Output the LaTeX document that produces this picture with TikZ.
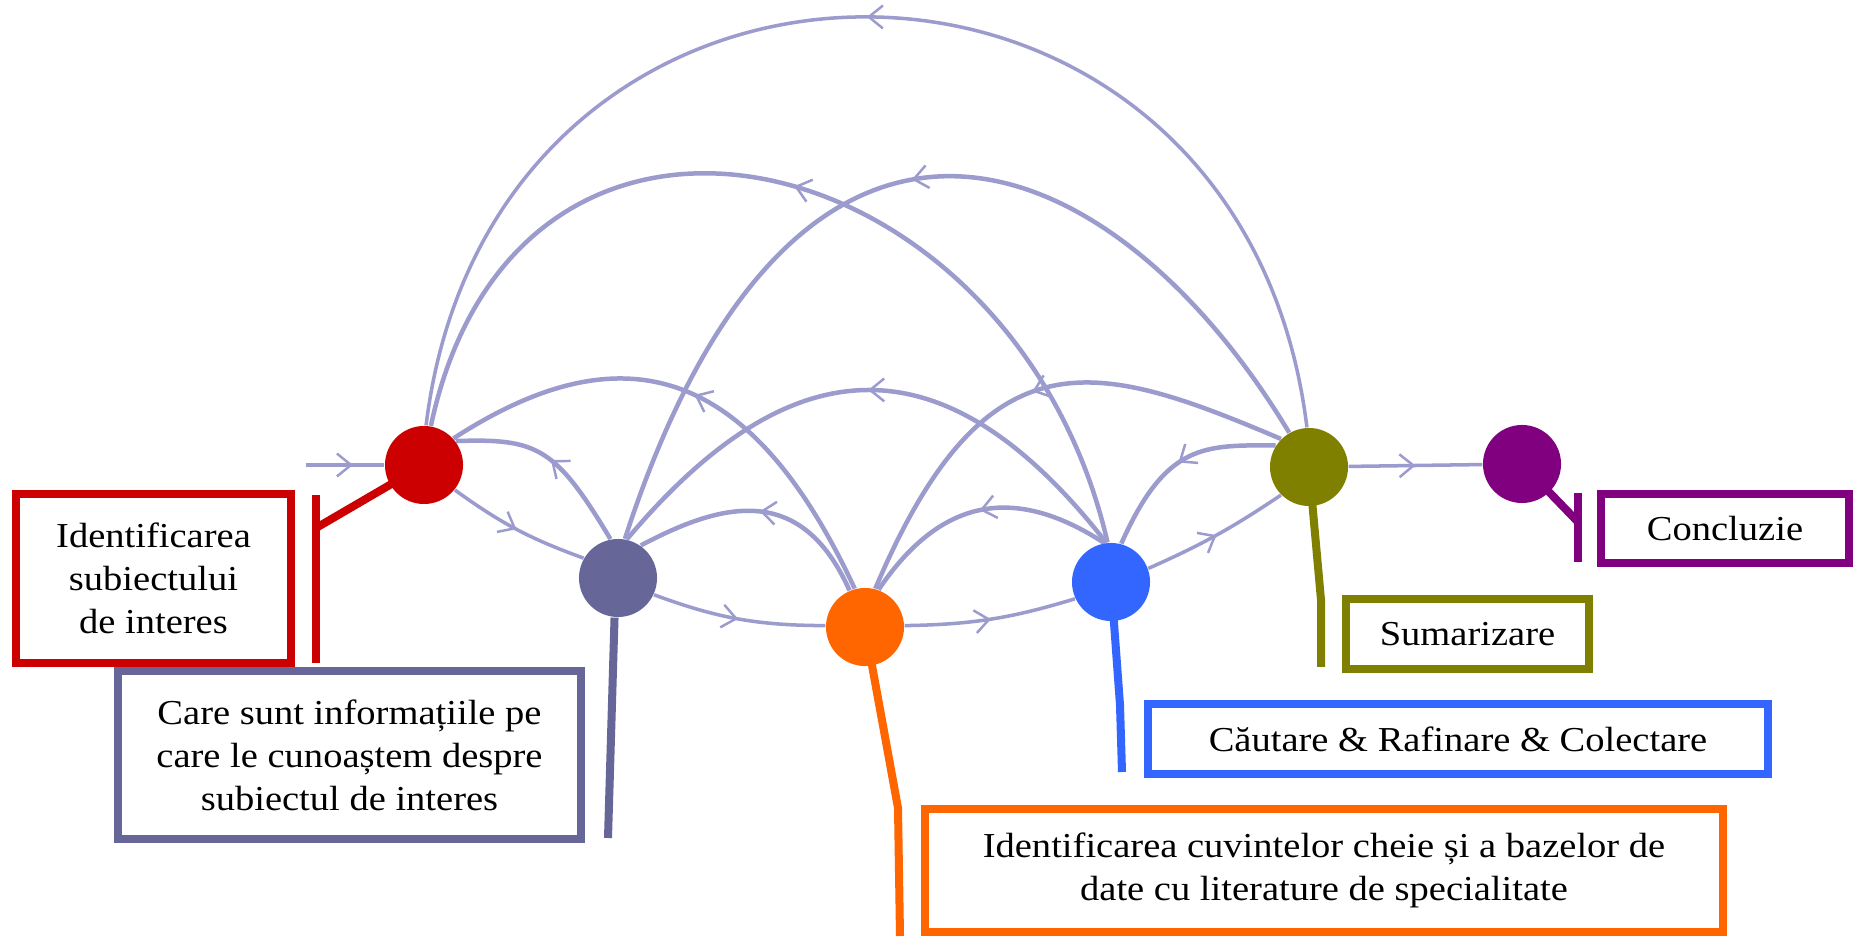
\documentclass[tikz,border=0pt]{standalone}
\usepackage{fontspec}
\setmainfont{Liberation Serif}[FakeStretch=1.1]
\usetikzlibrary{arrows.meta,decorations.markings}
\pgfdeclarelayer{background}
\pgfsetlayers{background,main}
\definecolor{cRed}{HTML}{CC0000}
\definecolor{cSlate}{HTML}{666699}
\definecolor{cOrange}{HTML}{FF6600}
\definecolor{cBlue}{HTML}{3366FF}
\definecolor{cOlive}{HTML}{808000}
\definecolor{cPurple}{HTML}{800080}
\definecolor{cEdge}{RGB}{155,155,206}
\tikzset{
  dot/.style={circle, minimum size=0.78cm, inner sep=0pt, fill=#1},
  box/.style={draw=#1, line width=2.28pt, fill=white, inner sep=0pt, align=center,
    font=\fontsize{9.96pt}{12.2pt}\selectfont},
  link/.style={draw=cEdge, line width=1.28pt},
  fwd/.style={draw=cEdge, line width=1pt},
  callout/.style={draw=#1, line width=2.28pt},
  midarrow/.style={postaction={decorate, decoration={markings,
    mark=at position #1 with {\arrow[cEdge]{Straight Barb[length=4pt,width=6.5pt,line width=0.7pt]}}}}},
  midarrow/.default=0.5,
}
\begin{document}
\begin{tikzpicture}[x=0.01cm, y=0.01cm]
\useasboundingbox (0,0) rectangle (1857,936);
% circles
\node[dot=cRed]    (red)    at (424,471) {};
\node[dot=cSlate]  (slate)  at (618,358) {};
\node[dot=cOrange] (orange) at (865,309) {};
\node[dot=cBlue]   (blue)   at (1111,354) {};
\node[dot=cOlive]  (olive)  at (1309,469) {};
\node[dot=cPurple] (purple) at (1522,472) {};
% boxes
\node[box=cRed, minimum width=2.75cm, minimum height=1.69cm] (bRed) at (153.5,357.5)
  {Identificarea\\subiectului\\de interes};
\node[box=cSlate, minimum width=4.63cm, minimum height=1.68cm] (bSlate) at (349.5,181)
  {Care sunt informațiile pe\\care le cunoaștem despre\\subiectul de interes};
\node[box=cOrange, minimum width=7.98cm, minimum height=1.23cm] (bOrange) at (1324,65.5)
  {Identificarea cuvintelor cheie și a bazelor de\\date cu literature de specialitate};
\node[box=cBlue, minimum width=6.20cm, minimum height=0.70cm] (bBlue) at (1458,197)
  {Căutare \& Rafinare \& Colectare};
\node[box=cOlive, minimum width=2.43cm, minimum height=0.70cm] (bOlive) at (1467.5,302)
  {Sumarizare};
\node[box=cPurple, minimum width=2.48cm, minimum height=0.69cm] (bPurple) at (1725,407.5)
  {Concluzie};
% callout points
\coordinate (rJ) at (316,408); \coordinate (rT) at (316,441); \coordinate (rB) at (316,273);
\coordinate (sE) at (608,98);
\coordinate (oJ) at (898,128); \coordinate (oE) at (900,0);
\coordinate (bJ) at (1120,231); \coordinate (bE) at (1122,164);
\coordinate (lJ) at (1321,336); \coordinate (lE) at (1321,269);
\coordinate (pJ) at (1578,414); \coordinate (pT) at (1578,443); \coordinate (pB) at (1578,374);
\coordinate (start) at (306,471);
\begin{pgfonlayer}{background}
\fill[white] (0,0) rectangle (1857,936);
% callouts
\draw[callout=cRed] (red.center) -- (rJ);
\draw[callout=cRed] (rT) -- (rB);
\draw[callout=cSlate] (slate.265) -- (sE);
\draw[callout=cOrange] (orange.center) -- (oJ) -- (oE);
\draw[callout=cBlue] (blue.center) -- (bJ) -- (bE);
\draw[callout=cOlive] (olive.center) -- (lJ) -- (lE);
\draw[callout=cPurple] (purple.center) -- (pJ);
\draw[callout=cPurple] (pT) -- (pB);
% forward edges
\draw[fwd, midarrow=0.6] (start) -- (red);
\draw[fwd, midarrow] (red.-39) to[bend right=8] (slate.150);
\draw[fwd, midarrow] (slate.-25) to[bend right=10] (orange.178);
\draw[fwd, midarrow] (orange.2) to[bend right=8] (blue.205);
\draw[fwd, midarrow] (blue.20) to[bend right=5] (olive.225);
\draw[fwd, midarrow] (olive) -- (purple);
% back arcs
\draw[link, line width=1pt, midarrow] (olive.93) .. controls +(97:550) and +(83:550) .. (red.87);
\draw[link, midarrow] (blue.95) .. controls +(103:416) and +(78:416) .. (red.80);
\draw[link, midarrow] (olive.120) .. controls +(121:338) and +(72:563) .. (slate.80);
\draw[link, midarrow] (orange.105) .. controls +(115:238) and +(33:210) .. (red.42);
\draw[link, midarrow] (blue.97) .. controls +(128:259) and +(50:259) .. (slate.77);
\draw[link, midarrow] (olive.135) .. controls +(157:202) and +(67:283) .. (orange.75);
\draw[link, midarrow] (slate.101) .. controls +(121:107) and +(2:82) .. (red.37);
\draw[link, midarrow] (orange.113) .. controls +(114:119) and +(28:91) .. (slate.55);
\draw[link, midarrow] (blue.100) .. controls +(147:101) and +(56:117) .. (orange.70);
\draw[link, midarrow] (olive.147) .. controls +(180:71) and +(66:111) .. (blue.75);
\end{pgfonlayer}
\end{tikzpicture}
\end{document}
